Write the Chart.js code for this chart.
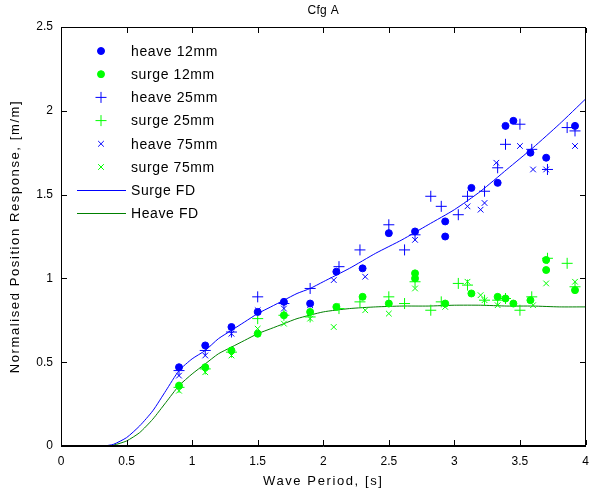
<!DOCTYPE html>
<html>
<head>
<meta charset="utf-8">
<script src="https://cdn.jsdelivr.net/npm/chart.js@4.4.1/dist/chart.umd.min.js"></script>
<style>
  html, body { margin: 0; padding: 0; background: #fff; }
</style>
</head>
<body>
<canvas id="chart" width="592" height="493"></canvas>
<script>
// Measured points (wave period [s], normalised response [m/m])
const heave12X = [0.9, 1.1, 1.3, 1.5, 1.7, 1.9, 2.1, 2.3, 2.5, 2.7, 2.93, 2.93, 3.13, 3.33, 3.39, 3.45, 3.58, 3.7, 3.92];
const heave12Y = [0.47, 0.60, 0.71, 0.80, 0.86, 0.85, 1.04, 1.06, 1.27, 1.28, 1.25, 1.34, 1.54, 1.57, 1.91, 1.94, 1.75, 1.72, 1.91];

const surge12X = [0.9, 1.1, 1.3, 1.5, 1.7, 1.9, 2.1, 2.3, 2.5, 2.7, 2.7, 2.93, 3.13, 3.33, 3.39, 3.45, 3.58, 3.7, 3.7, 3.92];
const surge12Y = [0.36, 0.47, 0.57, 0.67, 0.78, 0.80, 0.83, 0.89, 0.85, 1.03, 1.00, 0.85, 0.91, 0.89, 0.88, 0.85, 0.87, 1.11, 1.05, 0.93];

const heave25X = [0.9, 1.1, 1.3, 1.5, 1.7, 1.9, 2.12, 2.28, 2.5, 2.62, 2.7, 2.82, 2.9, 3.03, 3.1, 3.23, 3.33, 3.39, 3.5, 3.59, 3.71, 3.86, 3.92];
const heave25Y = [0.45, 0.57, 0.68, 0.89, 0.85, 0.94, 1.07, 1.17, 1.32, 1.17, 1.26, 1.49, 1.43, 1.38, 1.49, 1.52, 1.66, 1.80, 1.92, 1.77, 1.65, 1.90, 1.88];

const surge25X = [0.9, 1.1, 1.3, 1.5, 1.7, 1.9, 2.12, 2.28, 2.5, 2.62, 2.7, 2.82, 2.9, 3.03, 3.1, 3.23, 3.33, 3.39, 3.5, 3.59, 3.71, 3.86, 3.92];
const surge25Y = [0.35, 0.46, 0.56, 0.76, 0.78, 0.77, 0.82, 0.86, 0.89, 0.85, 0.98, 0.81, 0.86, 0.97, 0.96, 0.87, 0.87, 0.88, 0.81, 0.89, 1.12, 1.09, 0.95];

const heave75X = [0.9, 1.1, 1.3, 1.5, 1.7, 1.9, 2.08, 2.32, 2.7, 3.1, 3.2, 3.23, 3.32, 3.5, 3.6, 3.7, 3.92];
const heave75Y = [0.42, 0.54, 0.67, 0.81, 0.82, 0.84, 0.99, 1.01, 1.23, 1.43, 1.41, 1.45, 1.69, 1.79, 1.65, 1.65, 1.79];

const surge75X = [0.9, 1.1, 1.3, 1.5, 1.7, 1.9, 2.08, 2.32, 2.5, 2.7, 2.93, 3.1, 3.2, 3.23, 3.33, 3.6, 3.7, 3.92];
const surge75Y = [0.33, 0.44, 0.54, 0.70, 0.73, 0.76, 0.71, 0.81, 0.79, 0.94, 0.83, 0.98, 0.90, 0.87, 0.84, 0.84, 0.97, 0.98];

// Frequency-domain predictions
const surgeFdX = [0.33, 0.4, 0.5, 0.6, 0.7, 0.8, 0.9, 1.0, 1.1, 1.2, 1.3, 1.4, 1.5, 1.6, 1.7, 1.8, 1.9, 2.0, 2.2, 2.4, 2.6, 2.8, 3.0, 3.2, 3.4, 3.6, 3.8, 4.0];
const surgeFdY = [0, 0.01, 0.05, 0.12, 0.21, 0.33, 0.45, 0.52, 0.57, 0.64, 0.69, 0.74, 0.79, 0.83, 0.87, 0.91, 0.94, 0.98, 1.06, 1.15, 1.23, 1.32, 1.41, 1.52, 1.65, 1.78, 1.92, 2.07];

const heaveFdX = [0.35, 0.4, 0.5, 0.6, 0.7, 0.8, 0.9, 1.0, 1.1, 1.2, 1.3, 1.4, 1.5, 1.6, 1.7, 1.8, 2.0, 2.2, 2.4, 2.6, 2.8, 3.0, 3.2, 3.4, 3.6, 3.8, 4.0];
const heaveFdY = [0, 0.005, 0.03, 0.08, 0.16, 0.26, 0.36, 0.43, 0.49, 0.55, 0.59, 0.63, 0.67, 0.70, 0.73, 0.76, 0.80, 0.82, 0.83, 0.835, 0.835, 0.84, 0.84, 0.835, 0.835, 0.83, 0.83];

const xTicks = [0, 0.5, 1, 1.5, 2, 2.5, 3, 3.5, 4];
const yTicks = [0, 0.5, 1, 1.5, 2, 2.5];

const BLUE = '#0000ff';
const GREEN = '#00ff00';
const DARK_GREEN = '#008000';
const FONT = '"Liberation Sans", Arial, sans-serif';

function pts(xs, ys) {
  return xs.map((x, i) => ({ x: x, y: ys[i] }));
}

function marks(label, xs, ys, color, style, radius) {
  return {
    label: label,
    data: pts(xs, ys),
    pointStyle: style,
    pointRadius: radius,
    backgroundColor: color,
    borderColor: color,
    pointBorderWidth: 1,
    showLine: false
  };
}

function curve(label, xs, ys, color) {
  return {
    label: label,
    data: pts(xs, ys),
    showLine: true,
    borderColor: color,
    backgroundColor: color,
    borderWidth: 1,
    pointRadius: 0,
    tension: 0.2
  };
}

// box round the plot with inward ticks (MATLAB style), titles, legend
const decorPlugin = {
  id: 'decor',
  afterDraw(chart) {
    const ctx = chart.ctx;
    const a = chart.chartArea;
    const sx = chart.scales.x, sy = chart.scales.y;
    const L = Math.round(a.left), R = Math.round(a.right) - 1;
    const T = Math.round(a.top), B = Math.round(a.bottom) - 1;

    ctx.save();
    ctx.globalAlpha = 1;
    ctx.fillStyle = '#000000';
    ctx.fillRect(L, T, R - L + 1, 1);
    ctx.fillRect(L, B, R - L + 1, 1);
    ctx.fillRect(L, T, 1, B - T + 1);
    ctx.fillRect(R, T, 1, B - T + 1);
    xTicks.forEach(v => {
      const px = Math.round(sx.getPixelForValue(v));
      ctx.fillRect(px, B - 5, 1, 5);
      ctx.fillRect(px, T + 1, 1, 5);
    });
    yTicks.forEach(v => {
      const py = Math.round(sy.getPixelForValue(v));
      ctx.fillRect(L + 1, py, 5, 1);
      ctx.fillRect(R - 5, py, 5, 1);
    });

    const cx = (a.left + a.right) / 2;
    const cy = (a.top + a.bottom) / 2;
    ctx.textAlign = 'center';
    ctx.textBaseline = 'middle';

    ctx.font = '12px ' + FONT;
    ctx.letterSpacing = '0.3px';
    ctx.fillText('Cfg A', cx, 11);

    ctx.font = '13px ' + FONT;
    ctx.letterSpacing = '1.6px';
    ctx.fillText('Wave Period, [s]', cx, 481);
    ctx.save();
    ctx.translate(15, cy);
    ctx.rotate(-Math.PI / 2);
    ctx.fillText('Normalised Position Response, [m/m]', 0, 0);
    ctx.restore();

    ctx.font = '14px ' + FONT;
    ctx.letterSpacing = '0.6px';
    ctx.textAlign = 'left';
    chart.data.datasets.forEach((ds, i) => {
      const ry = 51 + i * 23.2;
      if (ds.showLine) {
        ctx.fillStyle = ds.borderColor;
        ctx.fillRect(77, Math.round(ry), 49, 1);
      } else {
        ctx.fillStyle = ds.backgroundColor;
        ctx.strokeStyle = ds.borderColor;
        ctx.lineWidth = 1;
        Chart.helpers.drawPoint(ctx, { pointStyle: ds.pointStyle, radius: ds.pointRadius, rotation: 0, borderWidth: 1 }, 101, ry);
      }
      ctx.fillStyle = '#000';
      ctx.fillText(ds.label, 131, ry + 1);
    });
    ctx.restore();
  }
};

new Chart(document.getElementById('chart'), {
  type: 'scatter',
  data: {
    datasets: [
      marks('heave 12mm', heave12X, heave12Y, BLUE, 'circle', 3.5),
      marks('surge 12mm', surge12X, surge12Y, GREEN, 'circle', 3.5),
      marks('heave 25mm', heave25X, heave25Y, BLUE, 'cross', 5.5),
      marks('surge 25mm', surge25X, surge25Y, GREEN, 'cross', 5.5),
      marks('heave 75mm', heave75X, heave75Y, BLUE, 'crossRot', 4),
      marks('surge 75mm', surge75X, surge75Y, GREEN, 'crossRot', 4),
      curve('Surge FD', surgeFdX, surgeFdY, BLUE),
      curve('Heave FD', heaveFdX, heaveFdY, DARK_GREEN)
    ]
  },
  options: {
    responsive: false,
    animation: false,
    events: [],
    layout: { padding: { top: 27, right: 4, bottom: 0, left: 0 } },
    scales: {
      x: {
        type: 'linear',
        min: 0,
        max: 4,
        afterFit: s => { s.height = 47; s.paddingLeft = 0; s.paddingRight = 0; },
        afterBuildTicks: s => { s.ticks = xTicks.map(v => ({ value: v })); },
        ticks: { color: '#000', padding: 8, font: { size: 12, family: FONT }, callback: v => String(v) },
        grid: { display: false, drawTicks: false },
        border: { display: true, color: '#000', width: 1 }
      },
      y: {
        type: 'linear',
        min: 0,
        max: 2.5,
        afterFit: s => { s.width = 61; s.paddingTop = 0; s.paddingBottom = 0; },
        afterBuildTicks: s => { s.ticks = yTicks.map(v => ({ value: v })); },
        ticks: { color: '#000', padding: 8, font: { size: 12, family: FONT }, callback: v => String(v) },
        grid: { display: false, drawTicks: false },
        border: { display: true, color: '#000', width: 1 }
      }
    },
    plugins: {
      legend: { display: false },
      title: { display: false },
      tooltip: { enabled: false }
    }
  },
  plugins: [decorPlugin]
});
</script>
</body>
</html>
